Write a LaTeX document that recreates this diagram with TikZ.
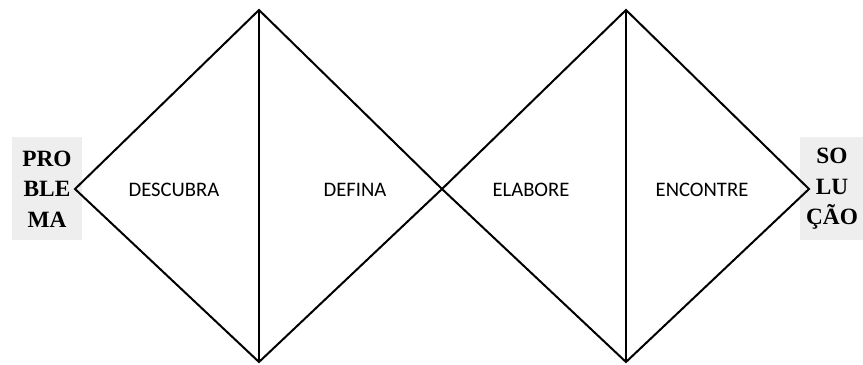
\documentclass[tikz,border=0pt]{standalone}
\usepackage{fontspec}
\setmainfont{Liberation Serif}
\newfontfamily\labelfont{Carlito}
\definecolor{boxgray}{HTML}{EEEEEE}
\begin{document}
\begin{tikzpicture}[x=0.75pt,y=-0.75pt,line join=miter,
    phase/.style={font=\labelfont\fontsize{15.5}{18}\selectfont},
    endbox/.style={fill=boxgray,align=center,inner sep=0pt,
      font=\bfseries\fontsize{17.5}{23}\selectfont}]
    \useasboundingbox (0,0) rectangle (863,364);
    % end boxes
    \fill[boxgray] (12,137) rectangle (82,240);
    \fill[boxgray] (800,137) rectangle (863,240);
    \node[endbox] (prob) at (47,189) {PRO\\BLE\\MA};
    \node[endbox] (sol) at (832,189) {SO\\LU\\ÇÃO};
    % diamond corners
    \coordinate (l1) at (75,189); \coordinate (t1) at (259,10);
    \coordinate (b1) at (259,362); \coordinate (m) at (442,189);
    \coordinate (t2) at (626,10); \coordinate (b2) at (626,362);
    \coordinate (r2) at (809,189);
    \begin{scope}[line width=1.5pt]
      \draw (l1)--(t1)--(m)--(b1)--cycle; \draw (t1)--(b1);
      \draw (m)--(t2)--(r2)--(b2)--cycle; \draw (t2)--(b2);
    \end{scope}
    % phases
    \node[phase] (desc) at (174,190) {DESCUBRA};
    \node[phase] (def) at (355,190) {DEFINA};
    \node[phase] (elab) at (531,190) {ELABORE};
    \node[phase] (enc) at (702,190) {ENCONTRE};
  \end{tikzpicture}
\end{document}
